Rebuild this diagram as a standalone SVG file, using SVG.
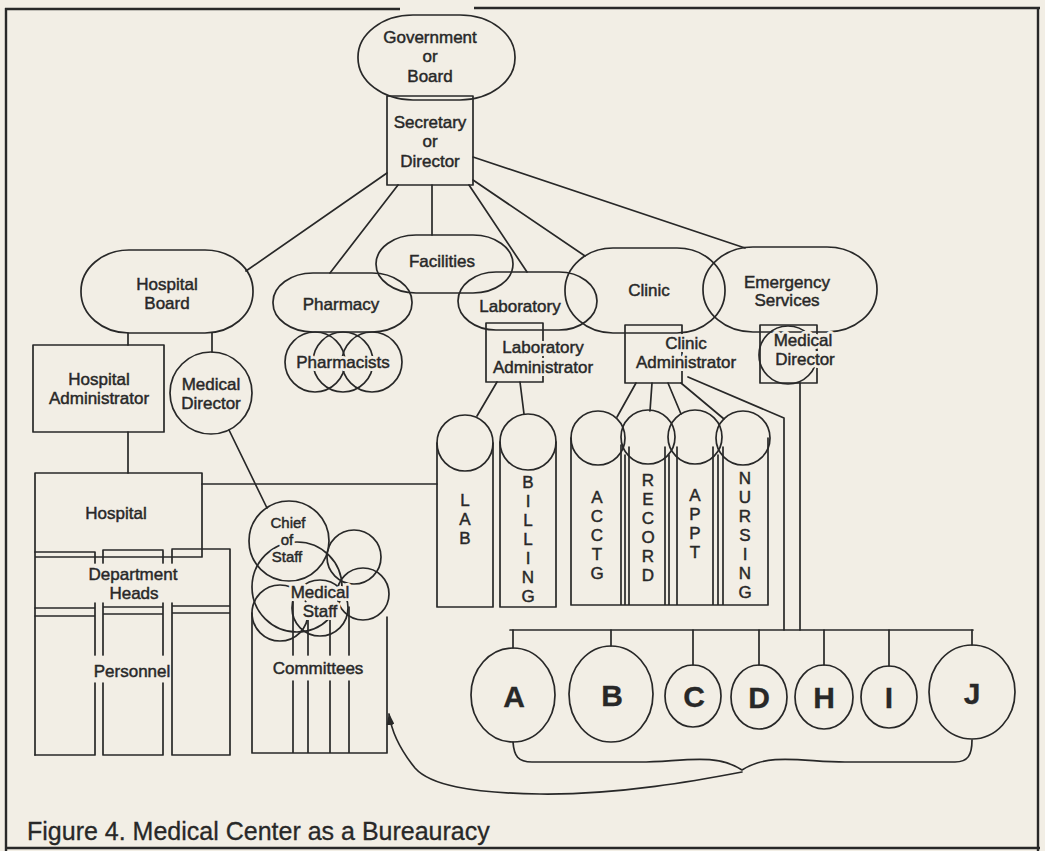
<svg xmlns="http://www.w3.org/2000/svg" width="1045" height="851" viewBox="0 0 1045 851">
<defs>
<style>
.ln{fill:none;stroke:#282828;stroke-width:1.7;stroke-linecap:round;stroke-linejoin:round}
.fr{fill:none;stroke:#282828;stroke-width:2.4}
.t{font-family:"Liberation Sans",Arial,sans-serif;font-size:17px;fill:#282828;stroke:#282828;stroke-width:0.45;text-anchor:middle}
.halo{fill:none;stroke:#f2eee5;stroke-width:6px;stroke-linejoin:round}
.sm{font-size:15px}
.big{font-size:30px;font-weight:bold;stroke-width:0.3}
.cap{font-family:"Liberation Sans",Arial,sans-serif;font-size:25px;fill:#282828;stroke:#282828;stroke-width:0.3}
</style>
<marker id="head" viewBox="0 0 12 8" refX="11" refY="4" markerWidth="12" markerHeight="8" markerUnits="userSpaceOnUse" orient="auto">
<path d="M0,0 L12,4 L0,8 Z" fill="#282828"/>
</marker>
</defs>
<rect width="1045" height="851" fill="#f2eee5"/>

<!-- page frame -->
<g id="frame">
<path class="fr" d="M5,9 H400 M474,8 H1040 M6,8 V851 M1038,8 V851 M5,848 H1040"/>
</g>

<!-- connectors -->
<g id="connectors" class="ln">
<path d="M387,173 L246,271"/>
<path d="M398,185 L330,273"/>
<path d="M432,185 V235"/>
<path d="M469,185 L527,272"/>
<path d="M473,180 L585,256"/>
<path d="M473,157 L745,248"/>
<path d="M128,333 V345 M212,333 V352"/>
<path d="M128,432 V473"/>
<path d="M229,430 L267,508"/>
<path d="M202,484 H437"/>
<path d="M497,382 L477,416 M520,382 L524,414"/>
<path d="M636,383 L617,417 M652,383 L650,411 M668,383 L681,414 M681,383 L724,419"/>
<path d="M688,377 L784,418 V630"/>
<path d="M800,383 V630"/>
<path d="M510,630 H973"/>
<path d="M513,630 V648 M611,630 V646 M693,630 V665 M759,630 V665 M824,630 V665 M889,630 V666 M972,630 V645"/>
<path d="M513,742 C514,756 518,762 532,762 L640,762 C680,762 715,752 742,770 C770,752 805,762 845,762 L955,762 C968,762 972,755 972,740"/>
<path d="M742,772 C700,780 620,795 540,794 C470,793 430,785 415,768 C402,752 392,735 389,714" marker-end="url(#head)"/>
</g>

<g id="government">
<rect class="ln" x="358" y="15" width="157" height="85" rx="55" ry="42"/>
<text class="t" x="430" y="43">Government</text>
<text class="t" x="430" y="62">or</text>
<text class="t" x="430" y="82">Board</text>
</g>

<g id="secretary">
<rect class="ln" x="387" y="96" width="86" height="89"/>
<text class="t" x="430" y="128">Secretary</text>
<text class="t" x="430" y="147">or</text>
<text class="t" x="430" y="167">Director</text>
</g>

<g id="hospital-board">
<rect class="ln" x="81" y="250" width="172" height="83" rx="48" ry="41"/>
<text class="t" x="167" y="290">Hospital</text>
<text class="t" x="167" y="309">Board</text>
</g>

<g id="hospital-administrator">
<rect class="ln" x="33" y="345" width="131" height="87"/>
<text class="t" x="99" y="385">Hospital</text>
<text class="t" x="99" y="404">Administrator</text>
</g>

<g id="medical-director">
<circle class="ln" cx="211" cy="393" r="41"/>
<text class="t" x="211" y="390">Medical</text>
<text class="t" x="211" y="409">Director</text>
</g>

<g id="facilities">
<rect class="ln" x="376" y="235" width="137" height="58" rx="40" ry="29"/>
<text class="t" x="442" y="267">Facilities</text>
</g>

<g id="pharmacy">
<rect class="ln" x="273" y="273" width="139" height="59" rx="40" ry="29"/>
<text class="t" x="341" y="310">Pharmacy</text>
</g>

<g id="pharmacists">
<circle class="ln" cx="315" cy="362" r="30"/>
<circle class="ln" cx="343" cy="362" r="30"/>
<circle class="ln" cx="372" cy="362" r="30"/>
<text class="t halo" x="343" y="368">Pharmacists</text>
<text class="t" x="343" y="368">Pharmacists</text>
</g>

<g id="laboratory">
<rect class="ln" x="458" y="272" width="139" height="58" rx="38" ry="29"/>
<text class="t" x="520" y="312">Laboratory</text>
</g>

<g id="laboratory-administrator">
<rect class="ln" x="486" y="323" width="57" height="59"/>
<text class="t halo" x="543" y="353">Laboratory</text>
<text class="t halo" x="543" y="373">Administrator</text>
<text class="t" x="543" y="353">Laboratory</text>
<text class="t" x="543" y="373">Administrator</text>
</g>

<g id="clinic">
<rect class="ln" x="565" y="248" width="160" height="85" rx="48" ry="42"/>
<text class="t" x="649" y="296">Clinic</text>
</g>

<g id="clinic-administrator">
<rect class="ln" x="625" y="325" width="57" height="58"/>
<text class="t halo" x="686" y="349">Clinic</text>
<text class="t halo" x="686" y="368">Administrator</text>
<text class="t" x="686" y="349">Clinic</text>
<text class="t" x="686" y="368">Administrator</text>
</g>

<g id="emergency-services">
<rect class="ln" x="703" y="247" width="174" height="85" rx="50" ry="42"/>
<text class="t" x="787" y="288">Emergency</text>
<text class="t" x="787" y="306">Services</text>
</g>

<g id="emergency-medical-director">
<rect class="ln" x="760" y="325" width="57" height="58"/>
<circle class="ln" cx="788" cy="355" r="29"/>
<text class="t halo" x="803" y="346">Medical</text>
<text class="t halo" x="805" y="365">Director</text>
<text class="t" x="803" y="346">Medical</text>
<text class="t" x="805" y="365">Director</text>
</g>

<g id="hospital">
<path class="ln" d="M35,473 H202 V557 H35 M35,473 V755"/>
<text class="t" x="116" y="519">Hospital</text>
</g>

<g id="department-heads">
<path class="ln" d="M35,552 H95 M35,608 H95 M35,616 H95 M35,755 H95
M95,552 V563 M95,603 V655 M95,683 V755"/>
<path class="ln" d="M103,550 H163 M103,607 H163 M103,614 H163 M103,755 H163
M103,550 V563 M103,603 V655 M103,683 V755
M163,551 V563 M163,603 V655 M163,683 V755"/>
<path class="ln" d="M172,549 H230 M172,606 H230 M172,613 H230 M172,755 H230
M172,550 V563 M172,603 V755 M230,549 V755"/>
<text class="t" x="133" y="580">Department</text>
<text class="t" x="134" y="599">Heads</text>
</g>

<g id="personnel">
<text class="t" x="132" y="677">Personnel</text>
</g>

<g id="committees">
<path class="ln" d="M252,613 V753 H387 V617
M293,602 V655 M293,681 V753
M308,620 V655 M308,681 V753
M330,615 V655 M330,681 V753
M349,607 V655 M349,681 V753"/>
<text class="t" x="318" y="674">Committees</text>
</g>

<g id="medical-staff">
<circle class="ln" cx="354" cy="557" r="27"/>
<circle class="ln" cx="297" cy="587" r="45"/>
<circle class="ln" cx="280" cy="613" r="28"/>
<circle class="ln" cx="320" cy="608" r="28"/>
<circle class="ln" cx="363" cy="594" r="26"/>
<text class="t halo" x="320" y="598">Medical</text>
<text class="t halo" x="320" y="617">Staff</text>
<text class="t" x="320" y="598">Medical</text>
<text class="t" x="320" y="617">Staff</text>
</g>

<g id="chief-of-staff">
<circle class="ln" cx="289" cy="541" r="40"/>
<text class="t sm halo" x="288" y="528">Chief</text>
<text class="t sm halo" x="287" y="545">of</text>
<text class="t sm halo" x="287" y="562">Staff</text>
<text class="t sm" x="288" y="528">Chief</text>
<text class="t sm" x="287" y="545">of</text>
<text class="t sm" x="287" y="562">Staff</text>
</g>

<g id="lab">
<circle class="ln" cx="465" cy="443" r="28"/>
<path class="ln" d="M437,443 V607 H493 V443"/>
<text class="t" x="465" y="506">L</text>
<text class="t" x="465" y="525">A</text>
<text class="t" x="465" y="544">B</text>
</g>

<g id="billing">
<circle class="ln" cx="528" cy="442" r="28"/>
<path class="ln" d="M500,442 V607 H556 V442"/>
<text class="t" x="528" y="488">B</text>
<text class="t" x="528" y="507">I</text>
<text class="t" x="528" y="526">L</text>
<text class="t" x="528" y="545">L</text>
<text class="t" x="528" y="564">I</text>
<text class="t" x="528" y="583">N</text>
<text class="t" x="528" y="602">G</text>
</g>

<g id="clinic-departments">
<circle class="ln" cx="598" cy="438" r="27"/>
<circle class="ln" cx="648" cy="437" r="27"/>
<circle class="ln" cx="695" cy="437" r="27"/>
<circle class="ln" cx="743" cy="438" r="27"/>
<path class="ln" d="M571,438 V605 H768 V438
M621,445 V605 M625,455 V605 M629,447 V605
M665,447 V605 M669,455 V605 M677,447 V605
M713,447 V605 M718,455 V605 M723,447 V605"/>
<g id="acctg">
<text class="t" x="597" y="503">A</text>
<text class="t" x="597" y="522">C</text>
<text class="t" x="597" y="541">C</text>
<text class="t" x="597" y="560">T</text>
<text class="t" x="597" y="579">G</text>
</g>
<g id="record">
<text class="t" x="648" y="486">R</text>
<text class="t" x="648" y="505">E</text>
<text class="t" x="648" y="524">C</text>
<text class="t" x="648" y="543">O</text>
<text class="t" x="648" y="562">R</text>
<text class="t" x="648" y="581">D</text>
</g>
<g id="appt">
<text class="t" x="695" y="501">A</text>
<text class="t" x="695" y="520">P</text>
<text class="t" x="695" y="539">P</text>
<text class="t" x="695" y="558">T</text>
</g>
<g id="nursing">
<text class="t" x="745" y="484">N</text>
<text class="t" x="745" y="503">U</text>
<text class="t" x="745" y="522">R</text>
<text class="t" x="745" y="541">S</text>
<text class="t" x="745" y="560">I</text>
<text class="t" x="745" y="579">N</text>
<text class="t" x="745" y="598">G</text>
</g>
</g>

<g id="unit-a"><ellipse class="ln" cx="513" cy="695" rx="42" ry="47"/><text class="t big" x="514" y="707">A</text></g>
<g id="unit-b"><ellipse class="ln" cx="611" cy="694" rx="42" ry="48"/><text class="t big" x="612" y="706">B</text></g>
<g id="unit-c"><ellipse class="ln" cx="693" cy="696" rx="28" ry="31"/><text class="t big" x="694" y="707">C</text></g>
<g id="unit-d"><ellipse class="ln" cx="759" cy="697" rx="28" ry="32"/><text class="t big" x="759" y="708">D</text></g>
<g id="unit-h"><ellipse class="ln" cx="824" cy="697" rx="29" ry="32"/><text class="t big" x="824" y="708">H</text></g>
<g id="unit-i"><ellipse class="ln" cx="889" cy="697" rx="28" ry="31"/><text class="t big" x="889" y="708">I</text></g>
<g id="unit-j"><ellipse class="ln" cx="972" cy="692" rx="43" ry="47"/><text class="t big" x="972" y="704">J</text></g>

<text class="cap" x="27" y="840">Figure 4. Medical Center as a Bureauracy</text>
</svg>
